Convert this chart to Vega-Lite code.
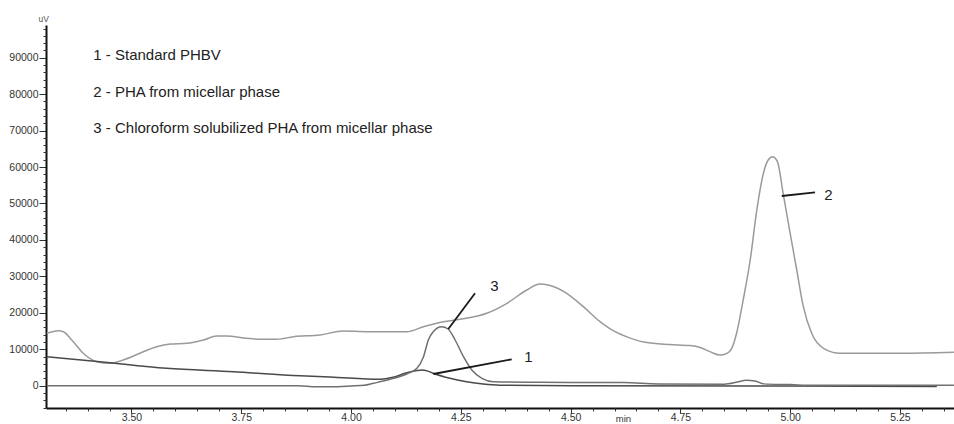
{
  "$schema": "https://vega.github.io/schema/vega-lite/v6.json",
  "width": 908,
  "height": 383,
  "autosize": {"type": "none"},
  "padding": {"left": 46, "top": 25, "right": 0, "bottom": 16},
  "background": "white",
  "config": {
    "view": {"stroke": null},
    "font": "Liberation Sans"
  },
  "datasets": {
    "traces": [
      {"trace": "2", "t": 3.307, "uV": 14380},
      {"trace": "2", "t": 3.333, "uV": 15090},
      {"trace": "2", "t": 3.345, "uV": 14820},
      {"trace": "2", "t": 3.364, "uV": 12540},
      {"trace": "2", "t": 3.390, "uV": 8890},
      {"trace": "2", "t": 3.421, "uV": 6590},
      {"trace": "2", "t": 3.451, "uV": 6150},
      {"trace": "2", "t": 3.481, "uV": 7050},
      {"trace": "2", "t": 3.519, "uV": 8890},
      {"trace": "2", "t": 3.557, "uV": 10700},
      {"trace": "2", "t": 3.588, "uV": 11440},
      {"trace": "2", "t": 3.626, "uV": 11630},
      {"trace": "2", "t": 3.664, "uV": 12540},
      {"trace": "2", "t": 3.694, "uV": 13640},
      {"trace": "2", "t": 3.717, "uV": 13640},
      {"trace": "2", "t": 3.762, "uV": 13000},
      {"trace": "2", "t": 3.793, "uV": 12730},
      {"trace": "2", "t": 3.831, "uV": 12730},
      {"trace": "2", "t": 3.869, "uV": 13450},
      {"trace": "2", "t": 3.929, "uV": 13910},
      {"trace": "2", "t": 3.982, "uV": 15010},
      {"trace": "2", "t": 4.036, "uV": 14820},
      {"trace": "2", "t": 4.127, "uV": 14820},
      {"trace": "2", "t": 4.165, "uV": 16190},
      {"trace": "2", "t": 4.210, "uV": 17560},
      {"trace": "2", "t": 4.248, "uV": 18220},
      {"trace": "2", "t": 4.309, "uV": 19870},
      {"trace": "2", "t": 4.355, "uV": 22610},
      {"trace": "2", "t": 4.400, "uV": 26260},
      {"trace": "2", "t": 4.430, "uV": 27910},
      {"trace": "2", "t": 4.449, "uV": 27630},
      {"trace": "2", "t": 4.491, "uV": 25350},
      {"trace": "2", "t": 4.529, "uV": 21680},
      {"trace": "2", "t": 4.567, "uV": 17560},
      {"trace": "2", "t": 4.590, "uV": 15600},
      {"trace": "2", "t": 4.624, "uV": 13600},
      {"trace": "2", "t": 4.670, "uV": 11900},
      {"trace": "2", "t": 4.726, "uV": 11300},
      {"trace": "2", "t": 4.772, "uV": 11000},
      {"trace": "2", "t": 4.795, "uV": 10500},
      {"trace": "2", "t": 4.820, "uV": 9200},
      {"trace": "2", "t": 4.840, "uV": 8400},
      {"trace": "2", "t": 4.855, "uV": 8800},
      {"trace": "2", "t": 4.867, "uV": 10260},
      {"trace": "2", "t": 4.878, "uV": 14380},
      {"trace": "2", "t": 4.893, "uV": 23520},
      {"trace": "2", "t": 4.909, "uV": 34490},
      {"trace": "2", "t": 4.924, "uV": 48210},
      {"trace": "2", "t": 4.939, "uV": 58280},
      {"trace": "2", "t": 4.950, "uV": 61930},
      {"trace": "2", "t": 4.960, "uV": 62840},
      {"trace": "2", "t": 4.971, "uV": 61470},
      {"trace": "2", "t": 4.984, "uV": 52790},
      {"trace": "2", "t": 5.000, "uV": 41820},
      {"trace": "2", "t": 5.015, "uV": 31750},
      {"trace": "2", "t": 5.030, "uV": 21680},
      {"trace": "2", "t": 5.049, "uV": 14380},
      {"trace": "2", "t": 5.076, "uV": 10260},
      {"trace": "2", "t": 5.114, "uV": 8890},
      {"trace": "2", "t": 5.250, "uV": 8890},
      {"trace": "2", "t": 5.373, "uV": 9160},

      {"trace": "1", "t": 3.307, "uV": 7960},
      {"trace": "1", "t": 3.428, "uV": 6590},
      {"trace": "1", "t": 3.580, "uV": 4770},
      {"trace": "1", "t": 3.732, "uV": 3840},
      {"trace": "1", "t": 3.884, "uV": 2700},
      {"trace": "1", "t": 3.952, "uV": 2400},
      {"trace": "1", "t": 4.066, "uV": 1760},
      {"trace": "1", "t": 4.096, "uV": 2300},
      {"trace": "1", "t": 4.127, "uV": 3570},
      {"trace": "1", "t": 4.150, "uV": 4150},
      {"trace": "1", "t": 4.161, "uV": 4310},
      {"trace": "1", "t": 4.175, "uV": 4000},
      {"trace": "1", "t": 4.187, "uV": 3400},
      {"trace": "1", "t": 4.225, "uV": 2030},
      {"trace": "1", "t": 4.263, "uV": 1100},
      {"trace": "1", "t": 4.301, "uV": 470},
      {"trace": "1", "t": 4.339, "uV": 150},
      {"trace": "1", "t": 4.500, "uV": 0},
      {"trace": "1", "t": 5.000, "uV": -100},
      {"trace": "1", "t": 5.334, "uV": -200},

      {"trace": "3", "t": 3.307, "uV": 0},
      {"trace": "3", "t": 3.880, "uV": 0},
      {"trace": "3", "t": 3.920, "uV": -300},
      {"trace": "3", "t": 3.970, "uV": -300},
      {"trace": "3", "t": 4.000, "uV": -100},
      {"trace": "3", "t": 4.030, "uV": 100},
      {"trace": "3", "t": 4.051, "uV": 660},
      {"trace": "3", "t": 4.089, "uV": 1760},
      {"trace": "3", "t": 4.127, "uV": 3210},
      {"trace": "3", "t": 4.150, "uV": 4770},
      {"trace": "3", "t": 4.165, "uV": 7960},
      {"trace": "3", "t": 4.176, "uV": 12540},
      {"trace": "3", "t": 4.187, "uV": 14820},
      {"trace": "3", "t": 4.206, "uV": 16190},
      {"trace": "3", "t": 4.221, "uV": 15560},
      {"trace": "3", "t": 4.237, "uV": 12540},
      {"trace": "3", "t": 4.256, "uV": 7960},
      {"trace": "3", "t": 4.275, "uV": 4310},
      {"trace": "3", "t": 4.298, "uV": 2030},
      {"trace": "3", "t": 4.324, "uV": 1100},
      {"trace": "3", "t": 4.400, "uV": 950},
      {"trace": "3", "t": 4.500, "uV": 900},
      {"trace": "3", "t": 4.620, "uV": 850},
      {"trace": "3", "t": 4.700, "uV": 500},
      {"trace": "3", "t": 4.850, "uV": 400},
      {"trace": "3", "t": 4.880, "uV": 1000},
      {"trace": "3", "t": 4.900, "uV": 1500},
      {"trace": "3", "t": 4.920, "uV": 1300},
      {"trace": "3", "t": 4.940, "uV": 500},
      {"trace": "3", "t": 5.000, "uV": 300},
      {"trace": "3", "t": 5.050, "uV": 100},
      {"trace": "3", "t": 5.373, "uV": 100}
    ],
    "legendText": [
      {"t": 3.413, "uV": 90700, "text": "1 - Standard PHBV"},
      {"t": 3.413, "uV": 80600, "text": "2 - PHA from micellar phase"},
      {"t": 3.413, "uV": 70700, "text": "3 - Chloroform solubilized PHA from micellar phase"}
    ],
    "peakLabels": [
      {"t": 4.4037, "uV": 7958, "text": "1"},
      {"t": 5.0869, "uV": 52332, "text": "2"},
      {"t": 4.3263, "uV": 27360, "text": "3"}
    ],
    "leaders": [
      {"t1": 4.3659, "v1": 7245, "t2": 4.1873, "v2": 3211},
      {"t1": 5.0566, "v1": 53073, "t2": 4.9808, "v2": 52058},
      {"t1": 4.2823, "v1": 25357, "t2": 4.2215, "v2": 15560}
    ]
  },
  "resolve": {"axis": {"x": "independent", "y": "independent"}},
  "layer": [
    {
      "mark": {"type": "rule", "color": "#555555", "strokeWidth": 1.5},
      "encoding": {
        "y": {"datum": 98980, "type": "quantitative", "axis": null}
      }
    },
    {
      "data": {"name": "traces"},
      "mark": {"type": "line", "interpolate": "monotone", "strokeWidth": 1.5},
      "encoding": {
        "x": {
          "field": "t",
          "type": "quantitative",
          "scale": {"domain": [3.3053, 5.3731], "nice": false, "zero": false},
          "axis": {
            "orient": "bottom",
            "values": [3.5, 3.75, 4.0, 4.25, 4.5, 4.75, 5.0, 5.25],
            "format": ".2f",
            "tickSize": 5,
            "grid": false,
            "domainColor": "#111111",
            "domainWidth": 2,
            "tickColor": "#333333",
            "tickWidth": 1,
            "labelFont": "Liberation Sans",
            "labelFontSize": 10.5,
            "labelColor": "#333333",
            "labelPadding": -1,
            "labelFlush": false,
            "labelOverlap": false,
            "title": "min",
            "titleFont": "Liberation Sans",
            "titleFontSize": 9.5,
            "titleFontWeight": "normal",
            "titleColor": "#333333",
            "titleBaseline": "alphabetic",
            "titleX": 577,
            "titleY": 13
          }
        },
        "y": {
          "field": "uV",
          "type": "quantitative",
          "scale": {"domain": [-6120, 98980], "nice": false, "zero": false},
          "axis": {
            "orient": "left",
            "values": [0, 10000, 20000, 30000, 40000, 50000, 60000, 70000, 80000, 90000],
            "format": "d",
            "tickSize": 7,
            "grid": false,
            "domainColor": "#111111",
            "domainWidth": 2,
            "tickColor": "#333333",
            "tickWidth": 1,
            "labelFont": "Liberation Sans",
            "labelFontSize": 10.5,
            "labelColor": "#333333",
            "labelPadding": 1,
            "labelOverlap": false,
            "labelFlush": false,
            "title": "uV",
            "titleAngle": 0,
            "titleAlign": "left",
            "titleBaseline": "bottom",
            "titleFont": "Liberation Sans",
            "titleFontSize": 8.5,
            "titleFontWeight": "normal",
            "titleColor": "#555555",
            "titleX": -8,
            "titleY": -2
          }
        },
        "color": {
          "field": "trace",
          "type": "nominal",
          "scale": {"domain": ["1", "2", "3"], "range": ["#4a4a4a", "#9a9a9a", "#707070"]},
          "legend": null
        },
        "detail": {"field": "trace"}
      }
    },
    {
      "data": {"name": "legendText"},
      "mark": {"type": "text", "align": "left", "baseline": "middle", "font": "Liberation Sans", "fontSize": 15, "color": "#222222"},
      "encoding": {
        "x": {"field": "t", "type": "quantitative", "axis": null},
        "y": {"field": "uV", "type": "quantitative", "axis": null},
        "text": {"field": "text"}
      }
    },
    {
      "data": {"name": "leaders"},
      "mark": {"type": "rule", "color": "#1a1a1a", "strokeWidth": 1.8},
      "encoding": {
        "x": {
          "field": "t1",
          "type": "quantitative",
          "axis": {
            "orient": "bottom",
            "values": [3.35, 3.4, 3.45, 3.55, 3.6, 3.65, 3.7, 3.8, 3.85, 3.9, 3.95, 4.05, 4.1, 4.15, 4.2, 4.3, 4.35, 4.4, 4.45, 4.55, 4.6, 4.65, 4.7, 4.8, 4.85, 4.9, 4.95, 5.05, 5.1, 5.15, 5.2, 5.3, 5.35],
            "labels": false,
            "domain": false,
            "grid": false,
            "tickSize": 3,
            "tickColor": "#333333",
            "tickWidth": 1,
            "title": null
          }
        },
        "y": {
          "field": "v1",
          "type": "quantitative",
          "axis": {
            "orient": "left",
            "values": [-6000, -4000, -2000, 2000, 4000, 6000, 8000, 12000, 14000, 16000, 18000, 22000, 24000, 26000, 28000, 32000, 34000, 36000, 38000, 42000, 44000, 46000, 48000, 52000, 54000, 56000, 58000, 62000, 64000, 66000, 68000, 72000, 74000, 76000, 78000, 82000, 84000, 86000, 88000, 92000, 94000, 96000, 98000],
            "labels": false,
            "domain": false,
            "grid": false,
            "tickSize": 3,
            "tickColor": "#333333",
            "tickWidth": 1,
            "title": null
          }
        },
        "x2": {"field": "t2"},
        "y2": {"field": "v2"}
      }
    },
    {
      "data": {"name": "peakLabels"},
      "mark": {"type": "text", "align": "center", "baseline": "middle", "font": "Liberation Sans", "fontSize": 15, "color": "#222222"},
      "encoding": {
        "x": {"field": "t", "type": "quantitative", "axis": null},
        "y": {"field": "uV", "type": "quantitative", "axis": null},
        "text": {"field": "text"}
      }
    }
  ]
}
